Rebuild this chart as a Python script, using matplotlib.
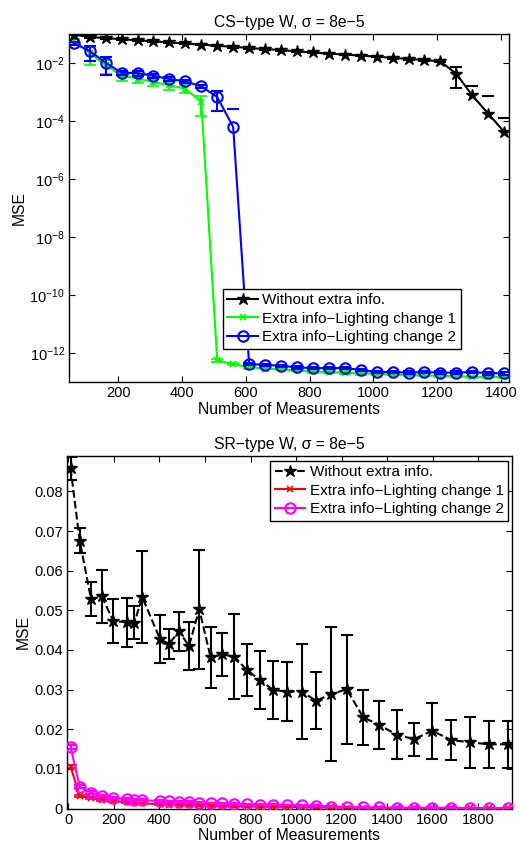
import matplotlib
matplotlib.use('Agg')
import matplotlib.pyplot as plt
import numpy as np
from matplotlib.ticker import FixedLocator, NullLocator, FixedFormatter

plt.rcParams['font.family'] = ['Liberation Sans', 'DejaVu Sans']
plt.rcParams['mathtext.fontset'] = 'custom'
plt.rcParams['mathtext.rm'] = 'Liberation Sans'
plt.rcParams['font.size'] = 11

# ---- datos: CS-type W (escala log) ----
n_cs = [60, 110, 160, 210, 260, 310, 360, 410, 460, 510, 560, 610, 660, 710,
        760, 810, 860, 910, 960, 1010, 1060, 1110, 1160, 1210, 1260, 1310, 1360, 1410]
cs_sin = [0.095, 0.079, 0.072, 0.066, 0.061, 0.056, 0.051, 0.047, 0.043, 0.039,
          0.036, 0.033, 0.030, 0.028, 0.025, 0.023, 0.021, 0.0195, 0.018, 0.0165,
          0.015, 0.0138, 0.0126, 0.0114, 0.0042, 0.00076, 0.000179, 0.000042]
cs_sin_err = [0.005, 0.004, 0.004, 0.003, 0.003, 0.003, 0.003, 0.002, 0.002, 0.002,
              0.002, 0.002, 0.002, 0.0015, 0.0015, 0.0015, 0.001, 0.001, 0.001, 0.001,
              0.001, 0.0008, 0.0008, 0.0008, 0.0028, 0.0008, 0.00055, 0.000088]
cs_l1 = [0.060, 0.022, 0.0083, 0.0037, 0.0029, 0.0022, 0.0017, 0.0013, 0.00045,
         5.6e-13, 4.1e-13, 3.2e-13, 2.9e-13, 2.7e-13, 2.5e-13, 2.3e-13, 2.2e-13,
         2.1e-13, 2.0e-13, 1.9e-13, 1.8e-13, 1.7e-13, 1.7e-13, 1.6e-13, 1.6e-13,
         1.5e-13, 1.5e-13, 1.5e-13]
cs_l1_err = [0.006, 0.0137, 0.004, 0.0013, 0.0008, 0.0006, 0.0005, 0.0004, 0.0003,
             0.6e-13, 0.4e-13, 0.3e-13, 0.2e-13, 0.2e-13, 0.2e-13, 0.2e-13, 0.2e-13,
             0.2e-13, 0.2e-13, 0.2e-13, 0.1e-13, 0.1e-13, 0.1e-13, 0.1e-13, 0.1e-13,
             0.1e-13, 0.1e-13, 0.1e-13]
cs_l2 = [0.048, 0.026, 0.0102, 0.0046, 0.0045, 0.0036, 0.0028, 0.0023, 0.00156,
         0.00067, 6.2e-5, 4.1e-13, 3.9e-13, 3.6e-13, 3.2e-13, 3.0e-13, 3.0e-13,
         3.0e-13, 2.6e-13, 2.2e-13, 2.2e-13, 2.1e-13, 2.2e-13, 2.1e-13, 2.1e-13,
         2.2e-13, 2.0e-13, 2.0e-13]
cs_l2_err = [0.005, 0.014, 0.0063, 0.0008, 0.0009, 0.0005, 0.0004, 0.0003, 0.0002,
             0.00045, 0.00019, 0.3e-13, 0.3e-13, 0.3e-13, 0.3e-13, 0.2e-13, 0.2e-13,
             0.2e-13, 0.2e-13, 0.2e-13, 0.2e-13, 0.2e-13, 0.2e-13, 0.2e-13, 0.2e-13,
             0.2e-13, 0.2e-13, 0.2e-13]

# ---- datos: SR-type W (escala lineal) ----
n_sr = [10, 50, 100, 147, 198, 256, 290, 325, 403, 442, 486, 530, 575, 625, 676,
        729, 783, 842, 900, 959, 1025, 1087, 1153, 1222, 1295, 1365, 1442, 1518,
        1598, 1680, 1764, 1847, 1932]
sr_sin = [0.0859, 0.0676, 0.0528, 0.0535, 0.0473, 0.0470, 0.0469, 0.0533, 0.0427,
          0.0415, 0.0447, 0.0410, 0.0503, 0.0381, 0.0389, 0.0383, 0.0350, 0.0324,
          0.0299, 0.0295, 0.0295, 0.0272, 0.0288, 0.0301, 0.0230, 0.0211, 0.0186,
          0.0175, 0.0196, 0.0173, 0.0167, 0.0162, 0.0162]
sr_sin_err = [0.0029, 0.0032, 0.0043, 0.0066, 0.0055, 0.0062, 0.0041, 0.0116, 0.0060,
              0.0037, 0.0050, 0.0060, 0.0150, 0.0078, 0.0054, 0.0107, 0.0066, 0.0074,
              0.0074, 0.0074, 0.0120, 0.0072, 0.0169, 0.0137, 0.0069, 0.0060, 0.0062,
              0.0042, 0.0070, 0.0051, 0.0065, 0.0059, 0.0059]
sr_l1 = [0.0106, 0.0031, 0.0027, 0.0021, 0.0019, 0.0016, 0.0014, 0.0013, 0.0011,
         0.0010, 0.0009, 0.0009, 0.0008, 0.0007, 0.0007, 0.0006, 0.0006, 0.0005,
         0.0005, 0.0004, 0.0004, 0.0003, 0.0003, 0.0002, 0.0002, 0.0002, 0.0001,
         0.0001, 0.0001, 0.0001, 0.0001, 0.0001, 0.0001]
sr_l1_err = [0.0004, 0.0003, 0.0003, 0.0002, 0.0002, 0.0002, 0.0002, 0.0002, 0.0001,
             0.0001, 0.0001, 0.0001, 0.0001, 0.0001, 0.0001, 0.0001, 0.0001, 0.0001,
             0.0001, 0.0001, 0.0001, 0.0001, 0.0001, 0.0001, 0.0001, 0.0001, 0.0001,
             0.0001, 0.0001, 0.0001, 0.0001, 0.0001, 0.0001]
sr_l2 = [0.0155, 0.0055, 0.0040, 0.0032, 0.0027, 0.0024, 0.0022, 0.0021, 0.0019,
         0.0018, 0.0017, 0.0016, 0.0015, 0.0014, 0.0013, 0.0012, 0.0011, 0.0010,
         0.0010, 0.0009, 0.0008, 0.0007, 0.0005, 0.0004, 0.0003, 0.0003, 0.0002,
         0.0002, 0.0002, 0.0002, 0.0001, 0.0001, 0.0001]
sr_l2_err = [0.0005, 0.0004, 0.0003, 0.0003, 0.0002, 0.0002, 0.0002, 0.0002, 0.0002,
             0.0002, 0.0002, 0.0002, 0.0001, 0.0001, 0.0001, 0.0001, 0.0001, 0.0001,
             0.0001, 0.0001, 0.0001, 0.0001, 0.0001, 0.0001, 0.0001, 0.0001, 0.0001,
             0.0001, 0.0001, 0.0001, 0.0001, 0.0001, 0.0001]

etiquetas = ['Without extra info.', 'Extra info\u2212Lighting change 1',
             'Extra info\u2212Lighting change 2']


def estilo_ejes(ax):
    ax.tick_params(direction='in', top=True, right=True, length=4, width=0.8,
                   labelsize=10.5, pad=3)
    for s in ax.spines.values():
        s.set_linewidth(1.0)


def leyenda(ax, curvas, **kw):
    # solo la linea con marcador, sin las barras de error
    leg = ax.legend([c[0] for c in curvas], etiquetas, borderaxespad=0,
                    fancybox=False, edgecolor='k', framealpha=1, fontsize=11,
                    handlelength=2.0, handletextpad=0.3, labelspacing=0.3,
                    borderpad=0.3, **kw)
    leg.get_frame().set_linewidth(1.0)
    return leg


fig = plt.figure(figsize=(5.21, 8.43), dpi=100)

# ---- arriba ----
ax1 = fig.add_axes([0.1324, 0.5469, 0.8445, 0.4128])
ax1.set_yscale('log', nonpositive='mask')
c1 = ax1.errorbar(n_cs, cs_sin, yerr=cs_sin_err, color='k', marker='*', ms=9, lw=1.5,
                  elinewidth=1.5, capsize=4, capthick=1.5, zorder=3)
c2 = ax1.errorbar(n_cs, cs_l1, yerr=cs_l1_err, color=(0, 1, 0), marker='x', ms=5, mew=1.2,
                  lw=1.5, elinewidth=1.5, capsize=4, capthick=1.5, zorder=2)
c3 = ax1.errorbar(n_cs, cs_l2, yerr=cs_l2_err, color=(0, 0, 1), marker='o', ms=7.5,
                  mfc='none', mew=1.5, lw=1.5, elinewidth=1.5, capsize=4, capthick=1.5,
                  zorder=2.5)
ax1.set_xlim(45, 1425)
ax1.set_ylim(1e-13, 1e-1)
ax1.xaxis.set_major_locator(FixedLocator([200, 400, 600, 800, 1000, 1200, 1400]))
ax1.yaxis.set_major_locator(FixedLocator([1e-12, 1e-10, 1e-8, 1e-6, 1e-4, 1e-2]))
ax1.yaxis.set_minor_locator(NullLocator())
estilo_ejes(ax1)
ax1.set_title('CS\u2212type W, \u03c3 = 8e\u22125', fontsize=11.3, pad=5)
ax1.set_xlabel('Number of Measurements', fontsize=11.3, labelpad=1)
ax1.set_ylabel('MSE', fontsize=11.3, labelpad=2)
leyenda(ax1, [c1, c2, c3], loc='lower right', bbox_to_anchor=(0.891, 0.095))

# ---- abajo ----
ax2 = fig.add_axes([0.128, 0.0409, 0.8547, 0.4185])
d1 = ax2.errorbar(n_sr, sr_sin, yerr=sr_sin_err, color='k', ls='--', marker='*', ms=9,
                  lw=1.5, elinewidth=1.5, capsize=4, capthick=1.5, zorder=3)
d2 = ax2.errorbar(n_sr, sr_l1, yerr=sr_l1_err, color=(1, 0, 0), marker='x', ms=5, mew=1.2,
                  lw=1.5, elinewidth=1.5, capsize=4, capthick=1.5, zorder=2)
d3 = ax2.errorbar(n_sr, sr_l2, yerr=sr_l2_err, color=(1, 0, 1), marker='o', ms=7.5,
                  mfc='none', mew=1.5, lw=1.5, elinewidth=1.5, capsize=4, capthick=1.5,
                  zorder=2.5)
ax2.set_xlim(-7, 1948)
ax2.set_ylim(0, 0.089)
ax2.xaxis.set_major_locator(FixedLocator([0, 200, 400, 600, 800, 1000, 1200, 1400, 1600, 1800]))
yt = [0, 0.01, 0.02, 0.03, 0.04, 0.05, 0.06, 0.07, 0.08]
ax2.yaxis.set_major_locator(FixedLocator(yt))
ax2.yaxis.set_major_formatter(FixedFormatter(['0'] + ['%.2f' % v for v in yt[1:]]))
estilo_ejes(ax2)
ax2.set_title('SR\u2212type W, \u03c3 = 8e\u22125', fontsize=11.3, pad=5)
ax2.set_xlabel('Number of Measurements', fontsize=11.3, labelpad=1)
ax2.set_ylabel('MSE', fontsize=11.3, labelpad=2)
leyenda(ax2, [d1, d2, d3], loc='upper right', bbox_to_anchor=(0.992, 0.986))

fig.savefig('out.png', dpi=100)
